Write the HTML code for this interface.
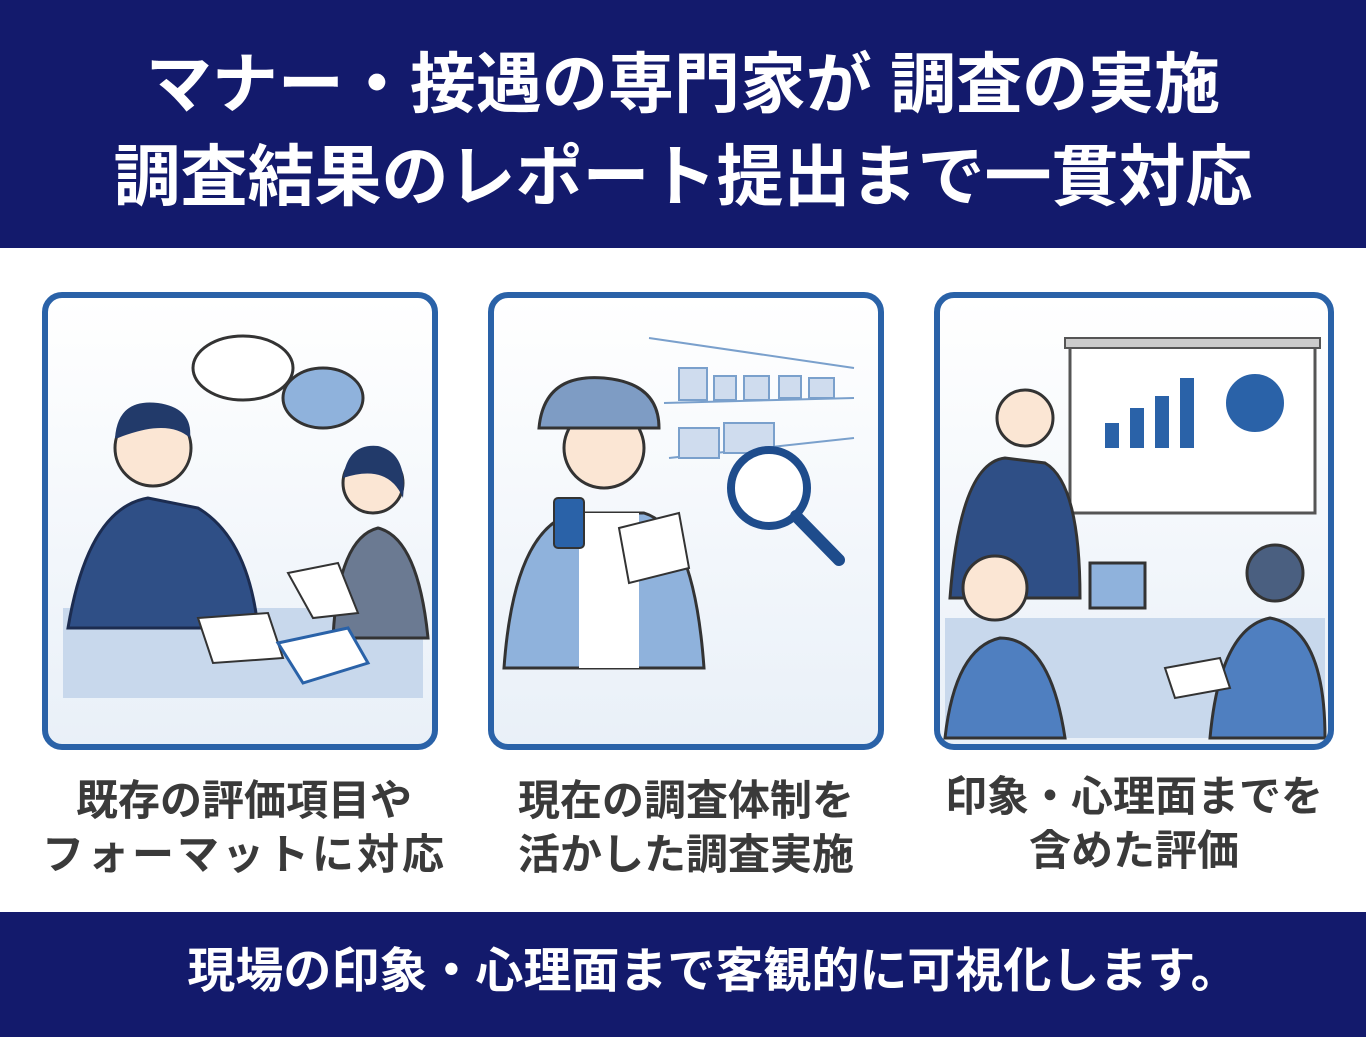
<!DOCTYPE html>
<html><head><meta charset="utf-8"><style>
*{margin:0;padding:0;box-sizing:border-box}
body{width:1366px;height:1037px;background:#fff;position:relative;overflow:hidden;font-family:"Liberation Sans","Noto Sans CJK JP",sans-serif}
.hdr{position:absolute;left:0;top:0;width:1366px;height:248px;background:#131a6c;color:#fff;font-weight:700;text-align:center}
.l1{position:absolute;top:44px;width:100%;font-size:66px;line-height:80px}
.l2{position:absolute;top:138px;width:100%;font-size:67px;line-height:80px}
.card{position:absolute;top:292px;height:458px;border:6px solid #2a62a8;border-radius:20px;background:linear-gradient(#ffffff,#e9f0f8);overflow:hidden}
.cap{position:absolute;font-size:42px;font-weight:700;color:#3a3a3a;text-align:center;line-height:54px;white-space:nowrap}
.ftr{position:absolute;left:0;top:912px;width:1366px;height:125px;background:#131a6c;color:#fff;font-weight:700;font-size:48px;text-align:center;line-height:120px;padding-left:60px}
</style></head><body>
<div class="hdr"><div class="l1">マナー・接遇の専門家が 調査の実施</div><div class="l2">調査結果のレポート提出まで一貫対応</div></div>

<div class="card" style="left:42px;width:396px">
<svg width="386" height="448" viewBox="0 0 386 448">
<ellipse cx="195" cy="70" rx="50" ry="32" fill="#fff" stroke="#333" stroke-width="3"/>
<ellipse cx="275" cy="100" rx="40" ry="30" fill="#8fb2dc" stroke="#333" stroke-width="3"/>
<rect x="15" y="310" width="360" height="90" fill="#c8d8ec"/>
<path d="M20 330 Q40 210 100 200 L150 210 Q200 240 210 330 Z" fill="#2f4f86" stroke="#1c2c50" stroke-width="3"/>
<circle cx="105" cy="150" r="38" fill="#fbe6d4" stroke="#333" stroke-width="3"/>
<path d="M67 140 Q70 100 110 105 Q145 110 142 140 Q120 120 70 140Z" fill="#223a6a"/>
<path d="M285 340 Q290 240 330 230 Q370 240 380 340Z" fill="#6b7a92" stroke="#333" stroke-width="3"/>
<circle cx="325" cy="185" r="30" fill="#fbe6d4" stroke="#333" stroke-width="3"/>
<path d="M295 180 Q300 145 330 148 Q360 155 355 200 Q340 165 295 180Z" fill="#223a6a"/>
<polygon points="150,320 220,315 235,360 165,365" fill="#fff" stroke="#333" stroke-width="2"/>
<polygon points="230,345 300,330 320,365 255,385" fill="#fff" stroke="#2a62a8" stroke-width="3"/>
<polygon points="240,275 290,265 310,315 265,320" fill="#fff" stroke="#333" stroke-width="2"/>
</svg></div>

<div class="card" style="left:488px;width:396px">
<svg width="386" height="448" viewBox="0 0 386 448">
<g stroke="#7aa0cc" stroke-width="2" fill="#cfdcee">
<line x1="155" y1="40" x2="360" y2="70"/><line x1="170" y1="105" x2="360" y2="100"/><line x1="175" y1="160" x2="360" y2="140"/>
<rect x="185" y="70" width="28" height="32"/><rect x="220" y="78" width="22" height="24"/><rect x="250" y="78" width="25" height="24"/><rect x="285" y="78" width="22" height="22"/><rect x="315" y="80" width="25" height="20"/>
<rect x="185" y="130" width="40" height="30"/><rect x="230" y="125" width="50" height="30"/>
</g>
<circle cx="275" cy="190" r="38" fill="#fff" stroke="#1e4c8c" stroke-width="8"/>
<line x1="302" y1="218" x2="345" y2="262" stroke="#1e4c8c" stroke-width="12" stroke-linecap="round"/>
<path d="M10 370 Q20 230 80 215 L150 215 Q200 230 210 370Z" fill="#8fb2dc" stroke="#333" stroke-width="3"/>
<rect x="85" y="215" width="60" height="155" fill="#fff"/>
<circle cx="110" cy="150" r="40" fill="#fbe6d4" stroke="#333" stroke-width="3"/>
<path d="M45 130 Q50 75 110 80 Q165 85 165 130 Z" fill="#7e9cc4" stroke="#333" stroke-width="3"/>
<rect x="60" y="200" width="30" height="50" rx="4" fill="#2a62a8" stroke="#333" stroke-width="2"/>
<polygon points="125,230 185,215 195,270 135,285" fill="#fff" stroke="#333" stroke-width="2"/>
</svg></div>

<div class="card" style="left:934px;width:400px">
<svg width="390" height="448" viewBox="0 0 390 448">
<rect x="130" y="45" width="245" height="170" fill="#fff" stroke="#555" stroke-width="3"/>
<rect x="125" y="40" width="255" height="10" fill="#ccc" stroke="#555" stroke-width="2"/>
<g fill="#2a62a8"><rect x="165" y="125" width="14" height="25"/><rect x="190" y="110" width="14" height="40"/><rect x="215" y="98" width="14" height="52"/><rect x="240" y="80" width="14" height="70"/></g>
<circle cx="315" cy="105" r="30" fill="#2a62a8" stroke="#fff" stroke-width="2"/>
<path d="M10 300 Q20 165 65 160 L105 165 Q140 185 140 300Z" fill="#2f4f86" stroke="#333" stroke-width="3"/>
<circle cx="85" cy="120" r="28" fill="#fbe6d4" stroke="#333" stroke-width="3"/>
<rect x="5" y="320" width="380" height="120" fill="#c8d8ec"/>
<path d="M5 440 Q15 350 60 340 Q110 340 125 440Z" fill="#4f7fc0" stroke="#333" stroke-width="3"/>
<circle cx="55" cy="290" r="32" fill="#fbe6d4" stroke="#333" stroke-width="3"/>
<path d="M270 440 Q280 330 330 320 Q385 330 385 440Z" fill="#4f7fc0" stroke="#333" stroke-width="3"/>
<circle cx="335" cy="275" r="28" fill="#4a5f80" stroke="#333" stroke-width="3"/>
<rect x="150" y="265" width="55" height="45" fill="#8fb2dc" stroke="#333" stroke-width="3"/>
<polygon points="225,370 280,360 290,390 235,400" fill="#fff" stroke="#333" stroke-width="2"/>
</svg></div>

<div class="cap" style="left:42px;width:404px;top:774px">既存の評価項目や<br><span style="letter-spacing:3px">フォーマットに対応</span></div>
<div class="cap" style="left:488px;width:396px;top:774px">現在の調査体制を<br>活かした調査実施</div>
<div class="cap" style="left:934px;width:400px;top:770px">印象・心理面までを<br>含めた評価</div>

<div class="ftr">現場の印象・心理面まで客観的に可視化します。</div>
</body></html>
